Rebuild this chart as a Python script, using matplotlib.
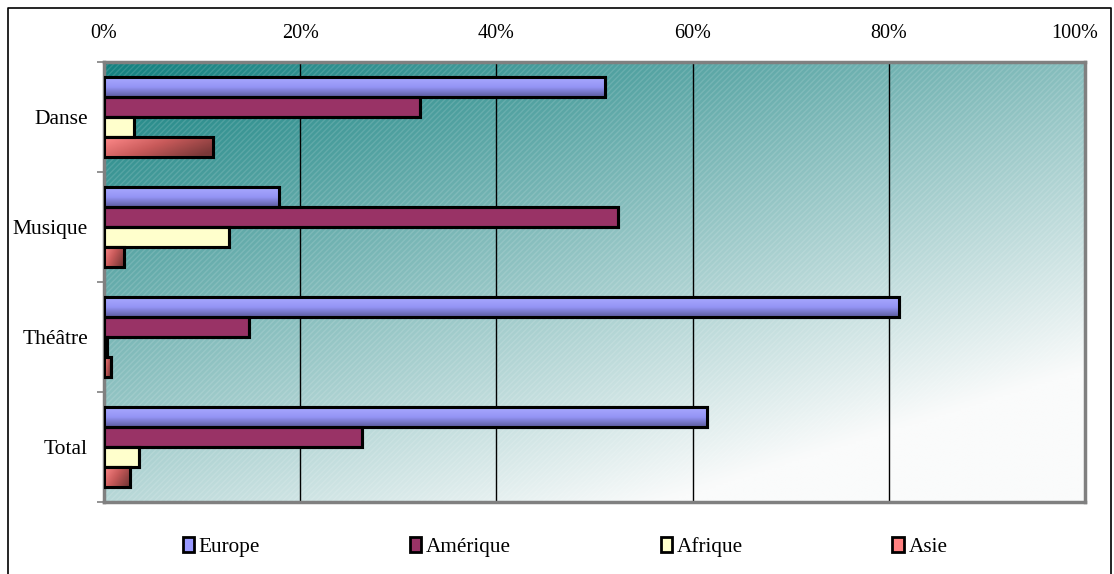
import numpy as np
import matplotlib.pyplot as plt
from matplotlib.patches import Rectangle
from matplotlib.lines import Line2D
from matplotlib.colors import LinearSegmentedColormap
from matplotlib.transforms import ScaledTranslation

plt.rcParams['font.family'] = ['Liberation Serif', 'DejaVu Serif']

categories = ["Danse", "Musique", "Théâtre", "Total"]
series = ["Europe", "Amérique", "Afrique", "Asie"]
europe = [51.1, 17.8, 81.0, 61.5]
amerique = [32.2, 52.4, 14.8, 26.3]
afrique = [3.1, 12.7, 0.3, 3.6]
asie = [11.1, 2.0, 0.7, 2.7]
xticks = [0, 20, 40, 60, 80, 100]
xticklabels = ["0%", "20%", "40%", "60%", "80%", "100%"]

values = [europe, amerique, afrique, asie]
colors = ["#9999FF", "#993366", "#FFFFCC", "#FF8080"]

fig = plt.figure(figsize=(11.14, 5.74), dpi=100)
ax = fig.add_axes([104 / 1114, 1 - 502 / 574, 981 / 1114, 440 / 574])

# background gradient teal -> white
ny, nx = 200, 400
yy, xx = np.mgrid[0:1:ny * 1j, 0:1:nx * 1j]
t = np.clip(0.5 * xx + 0.714 * yy, 0, 1)
teal = np.array([18, 128, 127]) / 255
white = np.array([250, 251, 251]) / 255
bg = teal[None, None, :] + (white - teal)[None, None, :] * t[..., None]
ax.imshow(bg, extent=[0, 100, 3.5, -0.5], aspect="auto", zorder=0)
ax.add_patch(Rectangle((0, -0.5), 100, 4, facecolor="none", hatch="//////",
                       edgecolor=(1, 1, 1, 0.13), linewidth=0, zorder=0.5))

h = 0.1818
y = np.arange(len(categories))
offsets = [-1.5 * h, -0.5 * h, 0.5 * h, 1.5 * h]

cm_eu = LinearSegmentedColormap.from_list("eu", ["#A8A8FF", "#9494F5", "#5C5C9E"])
cm_as = LinearSegmentedColormap.from_list("as", ["#FF8A8A", "#C85A5A", "#7A3838"])

for vals, col, off, name in zip(values, colors, offsets, series):
    bars = ax.barh(y + off, vals, height=h, color=col, edgecolor="black",
                   linewidth=2.2, zorder=3, label=name)
    for b in bars:
        x0, y0 = b.get_x(), b.get_y()
        w, hh = b.get_width(), b.get_height()
        if name == "Europe":
            g = np.linspace(0, 1, 50)[:, None]
            im = ax.imshow(g, cmap=cm_eu, extent=[x0, x0 + w, y0 + hh, y0],
                           aspect="auto", zorder=3.1)
            im.set_clip_path(b)
        elif name == "Asie":
            gx = np.linspace(0, 1, 100)[None, :]
            gy = np.linspace(0, 1, 20)[:, None]
            g = np.clip(0.75 * gx + 0.35 * gy, 0, 1)
            im = ax.imshow(g, cmap=cm_as, extent=[x0, x0 + w, y0 + hh, y0],
                           aspect="auto", zorder=3.1)
            im.set_clip_path(b)
        ax.add_patch(Rectangle((x0, y0), w, hh, facecolor="none",
                               edgecolor="black", linewidth=2.2, zorder=3.2))

ax.set_xlim(0, 100)
ax.set_ylim(3.5, -0.5)
ax.set_xticks(xticks)
ax.set_xticklabels(xticklabels, fontsize=14.5)
ax.xaxis.tick_top()
ax.tick_params(axis="x", length=0, pad=14)
# last label pulled in a little, like the original
lab = ax.get_xticklabels()[-1]
lab.set_transform(lab.get_transform() + ScaledTranslation(-10 / 100, 0, fig.dpi_scale_trans))
for gx in xticks[1:-1]:
    ax.axvline(gx, color="black", linewidth=1, zorder=1)

ax.set_yticks(y)
ax.set_yticklabels(categories, fontsize=15.5)
ax.set_yticks(np.arange(-0.5, 4, 1), minor=True)
ax.tick_params(axis="y", which="major", length=0, pad=11.5)
ax.tick_params(axis="y", which="minor", length=5, width=1.2, color="#808080")

for s in ax.spines.values():
    s.set_color("#808080")
    s.set_linewidth(2.5)

handles = [Rectangle((0, 0), 1, 1, facecolor=c, edgecolor="black", linewidth=2)
           for c in colors]
fig.legend(handles, series, loc="center",
           bbox_to_anchor=(0.5 + 8 / 1114, 1 - 547 / 574),
           ncol=4, frameon=False, fontsize=15.3, handlelength=0.55,
           handleheight=0.7, handletextpad=0.2, columnspacing=7.05)

# outer frame (left, top, right)
fig.add_artist(Line2D([8 / 1114, 8 / 1114, 1111 / 1114, 1111 / 1114],
                      [0, 1 - 8 / 574, 1 - 8 / 574, 0],
                      color="black", linewidth=1.2))

fig.savefig("out.png", dpi=100)
